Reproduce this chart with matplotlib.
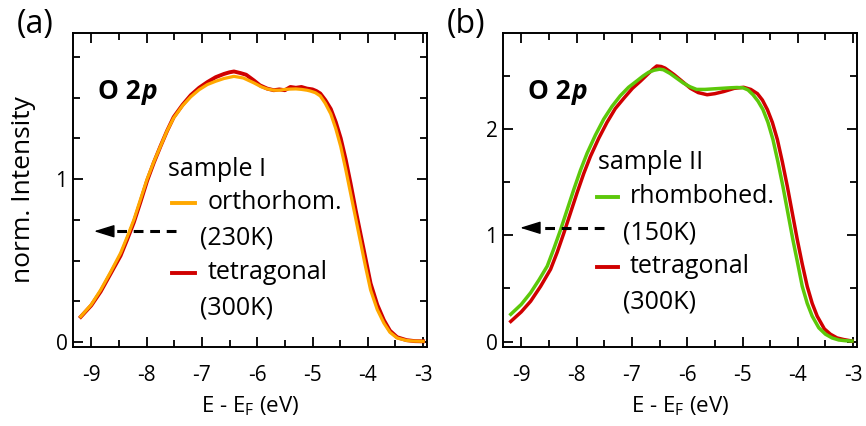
import matplotlib
matplotlib.use("Agg")
import matplotlib.pyplot as plt
from matplotlib.lines import Line2D
from matplotlib.ticker import MultipleLocator

FONT = 'Open Sans'
plt.rcParams['font.family'] = [FONT, 'DejaVu Sans']
plt.rcParams['mathtext.fontset'] = 'custom'
plt.rcParams['mathtext.rm'] = FONT
plt.rcParams['mathtext.it'] = FONT + ':italic'
plt.rcParams['mathtext.bf'] = FONT + ':bold'

# ---- panel (a): sample I ----
a_orth_x = [-9.19, -9.0, -8.83, -8.65, -8.47, -8.35, -8.23, -8.11, -7.99, -7.87, -7.75, -7.63, -7.51,
            -7.35, -7.2, -7.05, -6.9, -6.75, -6.6, -6.42, -6.25, -6.06, -5.92, -5.82, -5.7, -5.6,
            -5.5, -5.4, -5.3, -5.2, -5.1, -5.04, -4.95, -4.86, -4.77, -4.67, -4.58, -4.49, -4.4,
            -4.31, -4.22, -4.13, -4.04, -3.95, -3.83, -3.71, -3.6, -3.47, -3.3, -3.15, -3.0]
a_orth_y = [0.157, 0.23, 0.32, 0.43, 0.546, 0.645, 0.75, 0.875, 1.0, 1.105, 1.2, 1.295, 1.375,
            1.45, 1.505, 1.548, 1.58, 1.60, 1.617, 1.63, 1.62, 1.59, 1.565, 1.553, 1.545, 1.545,
            1.55, 1.552, 1.553, 1.55, 1.545, 1.54, 1.53, 1.51, 1.465, 1.40, 1.31, 1.2, 1.06,
            0.91, 0.76, 0.61, 0.46, 0.32, 0.2, 0.117, 0.06, 0.025, 0.01, 0.006, 0.005]
a_tet_x = [-9.19, -9.0, -8.83, -8.65, -8.47, -8.35, -8.23, -8.11, -7.99, -7.87, -7.75, -7.63, -7.51,
           -7.35, -7.2, -7.05, -6.9, -6.75, -6.6, -6.5, -6.42, -6.3, -6.2, -6.06, -5.95, -5.82,
           -5.7, -5.6, -5.5, -5.4, -5.3, -5.2, -5.1, -5.0, -4.93, -4.86, -4.77, -4.67, -4.58,
           -4.49, -4.4, -4.31, -4.22, -4.13, -4.04, -3.95, -3.83, -3.71, -3.6, -3.47, -3.3,
           -3.15, -3.0]
a_tet_y = [0.155, 0.225, 0.31, 0.42, 0.53, 0.63, 0.735, 0.86, 0.99, 1.1, 1.2, 1.295, 1.38,
           1.455, 1.515, 1.56, 1.595, 1.625, 1.645, 1.655, 1.66, 1.65, 1.64, 1.605, 1.575, 1.555,
           1.545, 1.55, 1.545, 1.565, 1.56, 1.565, 1.555, 1.55, 1.54, 1.525, 1.485, 1.43, 1.35,
           1.25, 1.12, 0.97, 0.81, 0.66, 0.51, 0.36, 0.23, 0.135, 0.07, 0.03, 0.012,
           0.006, 0.005]

# ---- panel (b): sample II ----
b_rhomb_x = [-9.19, -9.0, -8.83, -8.68, -8.53, -8.41, -8.29, -8.17, -8.05, -7.93, -7.81, -7.66, -7.51,
             -7.36, -7.21, -7.06, -6.91, -6.8, -6.7, -6.6, -6.5, -6.43, -6.31, -6.19, -6.07,
             -5.95, -5.83, -5.68, -5.53, -5.38, -5.23, -5.1, -4.99, -4.9, -4.81, -4.72, -4.63,
             -4.54, -4.45, -4.36, -4.27, -4.18, -4.09, -4.0, -3.92, -3.83, -3.74, -3.62, -3.5,
             -3.38, -3.26, -3.14, -3.02]
b_rhomb_y = [0.257, 0.35, 0.46, 0.58, 0.71, 0.875, 1.05, 1.24, 1.43, 1.61, 1.77, 1.94, 2.09,
             2.21, 2.31, 2.39, 2.45, 2.495, 2.53, 2.55, 2.56, 2.555, 2.52, 2.475, 2.43,
             2.395, 2.37, 2.37, 2.375, 2.38, 2.385, 2.388, 2.385, 2.365, 2.32, 2.26, 2.18,
             2.06, 1.9, 1.69, 1.46, 1.21, 0.96, 0.73, 0.52, 0.36, 0.24, 0.13, 0.07,
             0.035, 0.016, 0.009, 0.006]
b_tet_x = [-9.19, -9.0, -8.83, -8.65, -8.47, -8.35, -8.23, -8.11, -7.99, -7.87, -7.75, -7.6, -7.45,
           -7.3, -7.14, -6.99, -6.84, -6.7, -6.62, -6.55, -6.47, -6.4, -6.24, -6.1, -5.94, -5.8,
           -5.64, -5.5, -5.34, -5.15, -4.98, -4.85, -4.73, -4.64, -4.55, -4.46, -4.37, -4.28,
           -4.19, -4.1, -4.01, -3.92, -3.83, -3.74, -3.65, -3.52, -3.41, -3.29, -3.17, -3.02]
b_tet_y = [0.19, 0.28, 0.38, 0.52, 0.68, 0.84, 1.02, 1.21, 1.40, 1.58, 1.74, 1.91, 2.06,
           2.19, 2.29, 2.38, 2.45, 2.52, 2.56, 2.59, 2.585, 2.57, 2.51, 2.45, 2.38, 2.34,
           2.32, 2.33, 2.35, 2.38, 2.39, 2.37, 2.33, 2.27, 2.18, 2.06, 1.9, 1.69,
           1.46, 1.21, 0.96, 0.73, 0.52, 0.36, 0.24, 0.12, 0.07, 0.035, 0.02, 0.006]

# dashed arrows (tail x, tip x, y)
a_arrow = (-7.47, -8.95, 0.68)
b_arrow = (-7.50, -9.02, 1.07)

x_ticks = [-9, -8, -7, -6, -5, -4, -3]
a_yticks = [0, 1]
b_yticks = [0, 1, 2]

ORANGE = '#FFA800'
RED = '#D00000'
GREEN = '#5CC80A'
FS = 16     # x label
LFS = 18    # legend text
TFS = 15    # tick labels

fig = plt.figure(figsize=(8.66, 4.26), dpi=100)
W, H = 866, 426
axA = fig.add_axes([73 / W, 1 - 347 / H, 354 / W, 314 / H])
axB = fig.add_axes([503 / W, 1 - 347 / H, 354 / W, 314 / H])

def style(ax, ymin, ymax, yticks, yminor):
    ax.set_xlim(-9.33, -2.93)
    ax.set_ylim(ymin, ymax)
    ax.set_xticks(x_ticks)
    ax.set_xticklabels([str(t) for t in x_ticks])
    ax.set_yticks(yticks)
    ax.xaxis.set_minor_locator(MultipleLocator(0.5))
    ax.yaxis.set_minor_locator(MultipleLocator(yminor))
    ax.tick_params(which='both', direction='in', top=True, right=True, width=1.3,
                   labelsize=TFS, pad=4)
    ax.tick_params(axis='x', which='major', pad=13)
    ax.tick_params(which='major', length=7)
    ax.tick_params(which='minor', length=5)
    for s in ax.spines.values():
        s.set_linewidth(1.4)
    ax.set_xlabel('E - E$_\\mathregular{F}$ (eV)', fontsize=FS, labelpad=6)

style(axA, -0.03, 1.896, a_yticks, 0.25)
style(axB, -0.05, 2.90, b_yticks, 0.5)

axA.plot(a_tet_x, a_tet_y, color=RED, lw=2.8, solid_joinstyle='round')
axA.plot(a_orth_x, a_orth_y, color=ORANGE, lw=2.3, solid_joinstyle='round')
axB.plot(b_tet_x, b_tet_y, color=RED, lw=2.5, solid_joinstyle='round')
axB.plot(b_rhomb_x, b_rhomb_y, color=GREEN, lw=2.5, solid_joinstyle='round')

axA.set_ylabel('norm. Intensity', fontsize=19)
axA.yaxis.set_label_coords(-0.105, 0.5)

def dashed_arrow(ax, spec):
    x0, x1, y = spec
    ax.plot([x0, x1 + 0.2], [y, y], color='black', lw=2.2, linestyle=(0, (3.2, 2.2)),
            solid_capstyle='butt', dash_capstyle='butt')
    ax.annotate('', xy=(x1, y), xytext=(x1 + 0.3, y),
                arrowprops=dict(arrowstyle='-|>,head_length=0.9,head_width=0.28', lw=1.0,
                                color='black', mutation_scale=14, shrinkA=0, shrinkB=0))

dashed_arrow(axA, a_arrow)
dashed_arrow(axB, b_arrow)

# O 2p labels
for ax in (axA, axB):
    t = ax.text(0.07, 0.79, 'O 2', fontsize=19, fontweight='bold', transform=ax.transAxes,
                va='baseline', ha='left')
    ax.annotate('p', xy=(1, 0), xycoords=t, xytext=(1, 0), textcoords='offset points',
                fontsize=19, fontweight='bold', style='italic', va='bottom', ha='left')

def legend(ax, title, items, tx, ty, lx0, lx1, ltx, ktx, rows):
    ax.text(tx, ty, title, fontsize=LFS, transform=ax.transAxes, va='center', ha='left')
    for (label, temp, color), (ly, ky) in zip(items, rows):
        ax.add_line(Line2D([lx0, lx1], [ly, ly], color=color, lw=2.8, transform=ax.transAxes))
        ax.text(ltx, ly, label, fontsize=LFS, transform=ax.transAxes, va='center', ha='left')
        ax.text(ktx, ky, temp, fontsize=LFS, transform=ax.transAxes, va='center', ha='left')

legend(axA, 'sample I', [('orthorhom.', '(230K)', ORANGE), ('tetragonal', '(300K)', RED)],
       0.268, 0.564, 0.28, 0.345, 0.379, 0.359, [(0.459, 0.347), (0.236, 0.124)])
legend(axB, 'sample II', [('rhombohed.', '(150K)', GREEN), ('tetragonal', '(300K)', RED)],
       0.268, 0.586, 0.265, 0.325, 0.359, 0.339, [(0.478, 0.363), (0.255, 0.143)])

fig.text(17 / W, 1 - 24 / H, '(a)', fontsize=23, va='center', ha='left')
fig.text(447 / W, 1 - 24 / H, '(b)', fontsize=23, va='center', ha='left')

fig.savefig('out.png', dpi=100)
